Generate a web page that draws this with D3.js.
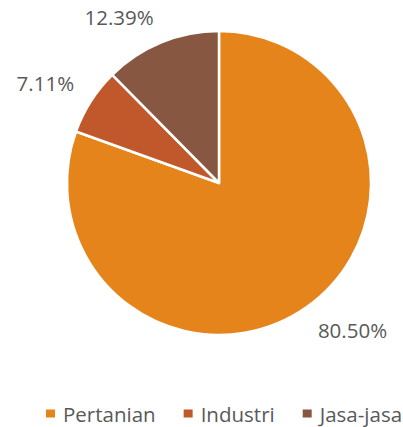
<!DOCTYPE html>
<html>
<head>
<meta charset="utf-8">
<script src="https://d3js.org/d3.v7.min.js"></script>
<style>
  body { margin: 0; background: #fff; }
  text { font-family: "Open Sans", "Liberation Sans", sans-serif; fill: #595959; }
</style>
</head>
<body>
<div id="chart"></div>
<script>
// Data
const categories = ['Pertanian', 'Industri', 'Jasa-jasa'];
const shares = [80.50, 7.11, 12.39];
const labels = ['80.50%', '7.11%', '12.39%'];
const colours = ['#E5841A', '#C0582B', '#875742'];

const width = 403, height = 427;
const cx = 219, cy = 183, radius = 152, labelRadius = 172;
const fontSize = 20.5;

const svg = d3.select('#chart')
    .append('svg')
    .attr('width', width)
    .attr('height', height);

const colour = d3.scaleOrdinal().domain(categories).range(colours);

const pie = d3.pie().sort(null).value(d => d.value);
const arcs = pie(categories.map((c, i) => ({ name: c, value: shares[i], label: labels[i] })));

const arc = d3.arc().innerRadius(0).outerRadius(radius);
const labelArc = d3.arc().innerRadius(labelRadius).outerRadius(labelRadius);

const g = svg.append('g').attr('transform', `translate(${cx},${cy})`);

g.selectAll('path.slice')
    .data(arcs)
    .enter()
    .append('path')
    .attr('class', 'slice')
    .attr('d', arc)
    .attr('fill', d => colour(d.data.name))
    .attr('stroke', '#fff')
    .attr('stroke-width', 2.5)
    .attr('stroke-linejoin', 'round');

// labels sit outside the pie, their nearest corner on the label radius
g.selectAll('text.value')
    .data(arcs)
    .enter()
    .append('text')
    .attr('class', 'value')
    .attr('x', d => labelArc.centroid(d)[0])
    .attr('y', d => labelArc.centroid(d)[1])
    .attr('text-anchor', d => labelArc.centroid(d)[0] < 0 ? 'end' : 'start')
    .attr('dy', d => labelArc.centroid(d)[1] < 0 ? '0.05em' : '0.72em')
    .attr('font-size', fontSize + 'px')
    .text(d => d.data.label);

// Legend
const legend = svg.append('g').attr('transform', 'translate(46,421.5)');
let x = 0;
categories.forEach((c, i) => {
    const item = legend.append('g').attr('transform', `translate(${x},0)`);
    item.append('rect')
        .attr('x', 0)
        .attr('y', -12)
        .attr('width', 9)
        .attr('height', 8)
        .attr('fill', colour(c));
    const t = item.append('text')
        .attr('x', 17)
        .attr('font-size', fontSize + 'px')
        .text(c);
    x += 17 + t.node().getComputedTextLength() + 28;
});
</script>
</body>
</html>
